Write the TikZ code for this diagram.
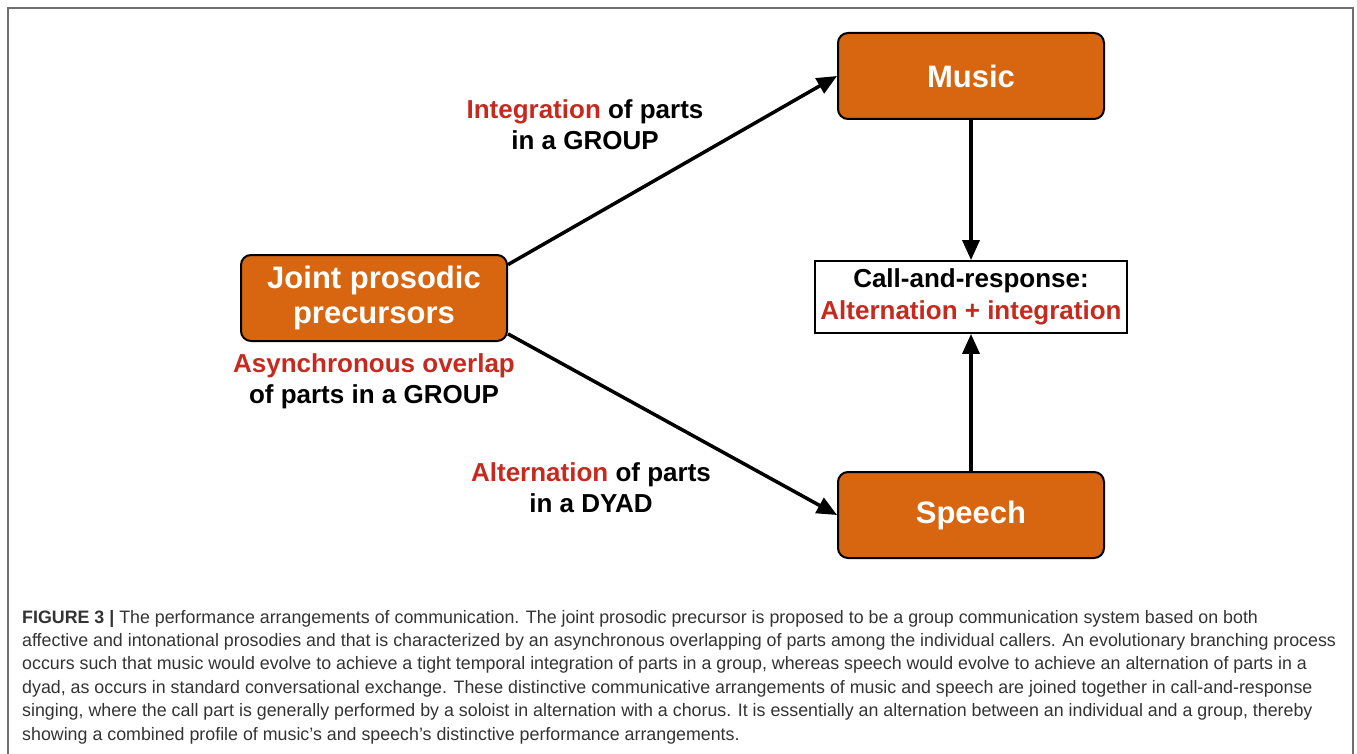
\documentclass[tikz,border=0pt]{standalone}
\usepackage{fontspec}
\setmainfont{Liberation Sans}
\newfontfamily\capfont[FakeStretch=0.99]{Liberation Sans}
\usetikzlibrary{arrows.meta}
\definecolor{boxorange}{HTML}{D8650F}
\definecolor{labred}{HTML}{C62A1F}
\definecolor{framegray}{HTML}{6E6E6E}
\definecolor{captext}{HTML}{333333}
\begin{document}
\begin{tikzpicture}[x=1pt,y=-1pt,
  stagebox/.style={draw=black, line width=2pt, fill=boxorange, rounded corners=10pt,
    text=white, font=\bfseries\fontsize{31}{35}\selectfont, align=center,
    inner sep=0pt, minimum width=266pt, minimum height=86pt},
  resultbox/.style={draw=black, line width=1.8pt, fill=white,
    font=\bfseries\fontsize{26}{32}\selectfont, align=center,
    inner sep=0pt, minimum width=312pt, minimum height=72pt},
  edgelabel/.style={font=\bfseries\fontsize{26}{31}\selectfont, align=center, inner sep=0pt},
  flow/.style={line width=3.5pt, -{Triangle[length=20pt,width=17pt]}},
  captionstyle/.style={anchor=base west, inner sep=0pt, align=left, text=captext,
    font=\capfont\fontsize{18}{23.4}\selectfont}
]
\useasboundingbox (0,0) rectangle (1357,754);
\draw[framegray, line width=2pt] (8,754) -- (8,8) -- (1353,8) -- (1353,754);

\node[stagebox] (joint) at (374,298) {Joint prosodic\\precursors};
\node[stagebox] (music) at (971,76) {Music};
\node[stagebox] (speech) at (971,515) {Speech};
\node[resultbox] (call) at (971,297) {Call-and-response:\\\textcolor{labred}{Alternation + integration}};

\node[edgelabel, anchor=base] (intlab) at (585,150) {\textcolor{labred}{Integration} of parts\\in a GROUP};
\node[edgelabel, anchor=base] (altlab) at (591,512) {\textcolor{labred}{Alternation} of parts\\in a DYAD};
\node[edgelabel, anchor=base] (asynlab) at (374,403) {\textcolor{labred}{Asynchronous overlap}\\of parts in a GROUP};

\draw[flow] (joint.14) -- (music.west);
\draw[flow] (joint.-15) -- (speech.west);
\draw[flow] (music.south) -- (call.north);
\draw[flow] (speech.north) -- (call.south);

\node[captionstyle] (cap) at (22,740) {{\bfseries FIGURE 3 |} The performance arrangements of communication. The joint prosodic precursor is proposed to be a group communication system based on both\\
affective and intonational prosodies and that is characterized by an asynchronous overlapping of parts among the individual callers. An evolutionary branching process\\
occurs such that music would evolve to achieve a tight temporal integration of parts in a group, whereas speech would evolve to achieve an alternation of parts in a\\
dyad, as occurs in standard conversational exchange. These distinctive communicative arrangements of music and speech are joined together in call-and-response\\
singing, where the call part is generally performed by a soloist in alternation with a chorus. It is essentially an alternation between an individual and a group, thereby\\
showing a combined profile of music’s and speech’s distinctive performance arrangements.};
\end{tikzpicture}
\end{document}
